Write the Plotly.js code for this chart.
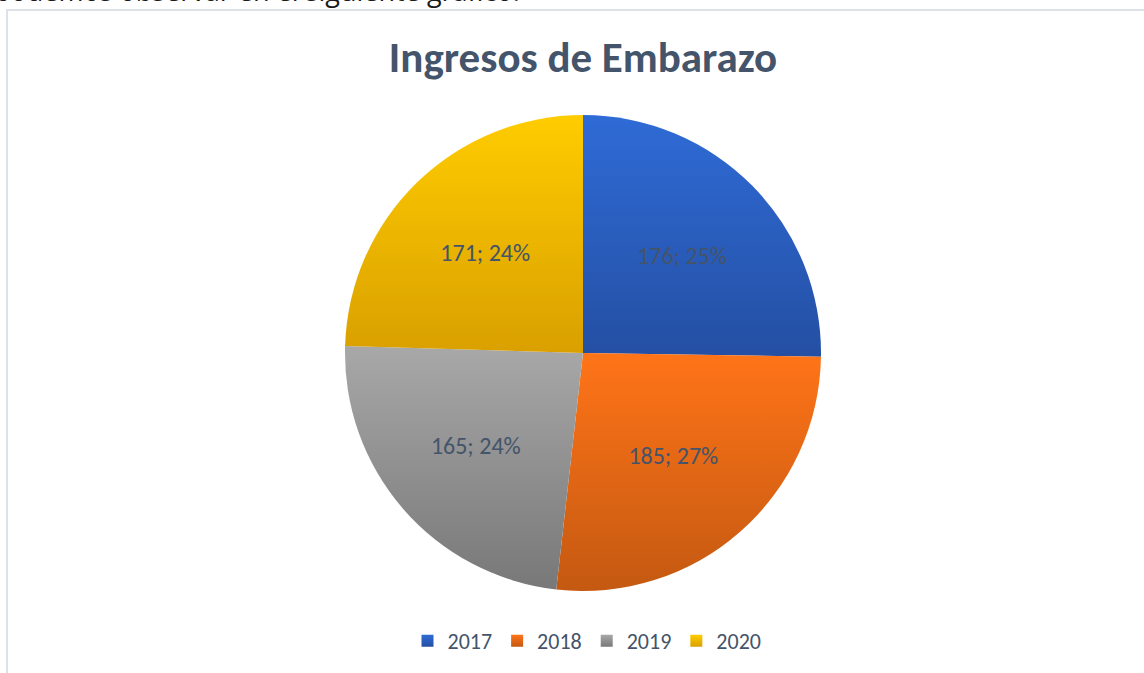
<!DOCTYPE html>
<html>
<head>
<meta charset="utf-8">
<script src="https://cdn.plot.ly/plotly-3.0.1.min.js"></script>
<style>
html,body{margin:0;padding:0;background:#fff;}
#chart{width:1144px;height:673px;}
</style>
</head>
<body>
<div id="chart"></div>
<script>
// Data
const years = ['2017', '2018', '2019', '2020'];
const ingresos = [176, 185, 165, 171];
const pctLabels = ['25%', '27%', '24%', '24%'];
const chartTitle = 'Ingresos de Embarazo';
const bodyText = 'podemos observar en el siguiente gráfico:';

// Styles
const baseColors = ['#2A5EC0', '#EE6A12', '#959595', '#F0BA00'];
const gradStops = [
  ['#2F6BD6', '#244FA3'],
  ['#FF7418', '#C45911'],
  ['#A8A8A8', '#787878'],
  ['#FFCC00', '#D9A000']
];
const textColor = '#44546A';
const chartFont = 'Carlito, Lato, "Liberation Sans", sans-serif';

const W = 1144, H = 673;
const cx = 583, cy = 353, r = 238;

const trace = {
  type: 'pie',
  labels: years,
  values: ingresos,
  customdata: pctLabels,
  texttemplate: '%{value}; %{customdata}',
  textinfo: 'text',
  textposition: 'inside',
  insidetextorientation: 'horizontal',
  sort: false,
  direction: 'clockwise',
  rotation: 0,
  marker: { colors: baseColors, line: { width: 0 } },
  textfont: { family: chartFont, size: 24, color: textColor },
  hoverinfo: 'none',
  domain: {
    x: [(cx - r) / W, (cx + r) / W],
    y: [1 - (cy + r) / H, 1 - (cy - r) / H]
  }
};

const layout = {
  width: W,
  height: H,
  margin: { l: 0, r: 0, t: 0, b: 0, pad: 0 },
  paper_bgcolor: '#ffffff',
  showlegend: true,
  title: {
    text: '<b>' + chartTitle + '</b>',
    font: { family: chartFont, size: 43, color: textColor },
    x: 583 / W, xanchor: 'center',
    y: 1 - 57 / H, yanchor: 'middle'
  },
  legend: {
    orientation: 'h',
    x: 587 / W, xanchor: 'center',
    y: 1 - 641 / H, yanchor: 'middle',
    font: { family: chartFont, size: 22, color: textColor },
    itemclick: false,
    traceorder: 'normal'
  },
  shapes: [{
    type: 'rect', xref: 'paper', yref: 'paper',
    x0: 7 / W, x1: 1.05, y0: -0.05, y1: 1 - 10 / H,
    line: { color: '#DDE2E8', width: 2 },
    fillcolor: 'rgba(0,0,0,0)', layer: 'below'
  }],
  annotations: [{
    text: bodyText,
    xref: 'paper', yref: 'paper',
    x: 522 / W, xanchor: 'right',
    y: 1 - 11 / H, yanchor: 'bottom',
    showarrow: false,
    font: { family: '"Open Sans", sans-serif', size: 27, color: '#1a1a1a' }
  }]
};

Plotly.newPlot('chart', [trace], layout, { displayModeBar: false, staticPlot: true }).then(function (gd) {
  const svg = gd.querySelector('.main-svg');
  let defs = svg.querySelector('defs');
  if (!defs) { defs = document.createElementNS('http://www.w3.org/2000/svg', 'defs'); svg.insertBefore(defs, svg.firstChild); }
  gradStops.forEach(function (st, i) {
    const g = document.createElementNS('http://www.w3.org/2000/svg', 'linearGradient');
    g.setAttribute('id', 'sliceGrad' + i);
    g.setAttribute('x1', '0'); g.setAttribute('y1', '0');
    g.setAttribute('x2', '0'); g.setAttribute('y2', '1');
    [[0, st[0]], [1, st[1]]].forEach(function (s) {
      const stop = document.createElementNS('http://www.w3.org/2000/svg', 'stop');
      stop.setAttribute('offset', s[0]);
      stop.setAttribute('stop-color', s[1]);
      g.appendChild(stop);
    });
    defs.appendChild(g);
  });
  gd.querySelectorAll('.slice path.surface').forEach(function (p, i) {
    p.style.fill = 'url(#sliceGrad' + i + ')';
  });
  gd.querySelectorAll('.legend .traces').forEach(function (t, i) {
    t.querySelectorAll('.legendpoints path').forEach(function (p) {
      p.style.fill = 'url(#sliceGrad' + i + ')';
    });
  });
});
</script>
</body>
</html>
